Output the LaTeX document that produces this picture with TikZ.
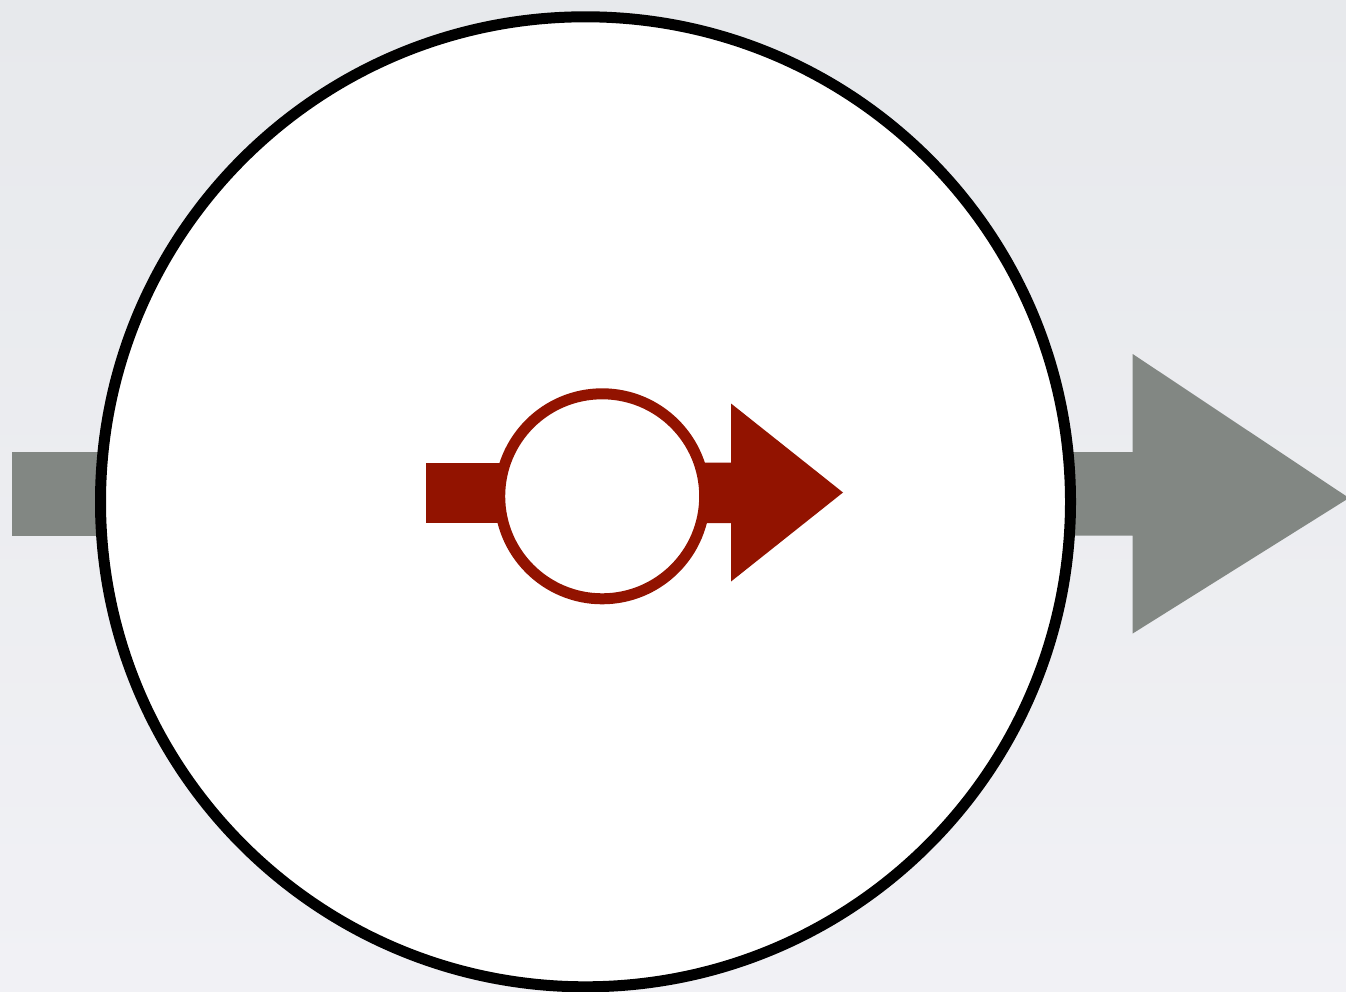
\documentclass[tikz,border=0pt]{standalone}
\definecolor{bgtop}{RGB}{231,233,236}
\definecolor{bgbot}{RGB}{241,241,245}
\definecolor{greyarrow}{RGB}{130,135,131}
\definecolor{darkred}{RGB}{146,19,0}
\tikzset{
 greyshape/.style={fill=greyarrow,draw=none},
 redshape/.style={fill=darkred,draw=none},
}
\begin{document}
\begin{tikzpicture}[x=1pt,y=-1pt]
\useasboundingbox (0,0) rectangle (1346,992);
\shade[top color=bgtop,bottom color=bgbot] (0,0) rectangle (1346,992);
\fill[greyshape] (11.5,452) rectangle (120,535.5);
\fill[greyshape] (1050,452) -- (1132.7,452) -- (1132.7,354) -- (1349,498) -- (1132.7,633.5) -- (1132.7,535.5) -- (1050,535.5) -- cycle;
\node[circle,draw=black,fill=white,line width=11pt,minimum size=970pt,inner sep=0pt] (big) at (585.5,501.8) {};
\fill[redshape] (426,462.5) rectangle (520,523);
\fill[redshape] (690,462.5) -- (731,462.5) -- (731,403.5) -- (843,492.5) -- (731,581.5) -- (731,523) -- (690,523) -- cycle;
\node[circle,draw=darkred,fill=white,line width=11pt,minimum size=205pt,inner sep=0pt] (small) at (602.2,496.3) {};
\end{tikzpicture}
\end{document}
